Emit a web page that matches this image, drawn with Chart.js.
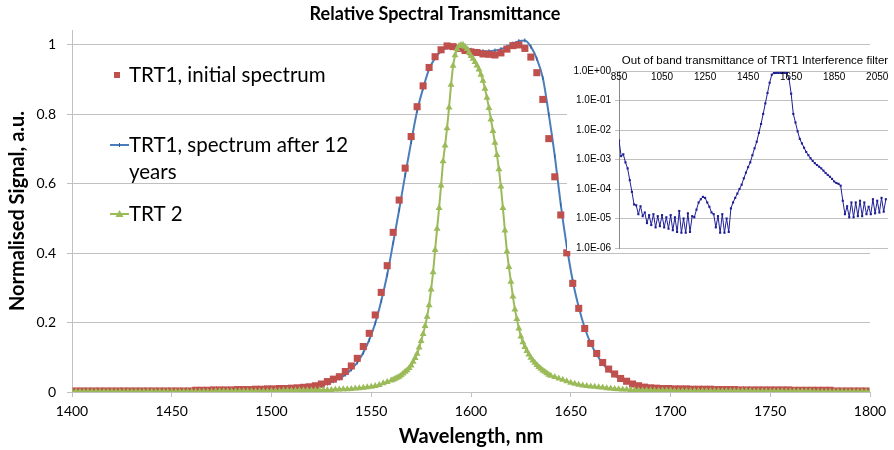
<!DOCTYPE html>
<html><head><meta charset="utf-8">
<script src="https://cdn.jsdelivr.net/npm/chart.js@4"></script>
<style>
html,body{margin:0;padding:0;background:#fff;}
#wrap{position:relative;width:894px;height:450px;overflow:hidden;}
#main{position:absolute;left:0;top:0;}
#insetBox{position:absolute;left:567px;top:48px;width:327px;height:203px;background:#fff;}
#inset{position:absolute;left:0;top:0;}
</style></head><body>
<div id="wrap">
<canvas id="main" width="894" height="450"></canvas>
<div id="insetBox"><canvas id="inset" width="327" height="210"></canvas></div>
</div>
<script>
// ---------- DATA ----------
const mainTitle = 'Relative Spectral Transmittance';
const xTitle = 'Wavelength, nm';
const yTitle = 'Normalised Signal, a.u.';
const seriesNames = ['TRT1, initial spectrum', ['TRT1, spectrum after 12', 'years'], 'TRT 2'];
const xTicks = [1400,1450,1500,1550,1600,1650,1700,1750,1800];
const yTicks = [0,0.2,0.4,0.6,0.8,1];

// TRT1 initial and TRT1 after 12 years: sampled every 3 nm starting at 1402 nm
const trt1Start = 1402, trt1Step = 3;
const trt1Initial = [
  .003,.003,.003,.003,.003,.003,.003,.003,.003,.003,   // 1402
  .003,.003,.003,.003,.003,.003,.003,.003,.003,.003,   // 1432
  .005,.005,.005,.006,.006,.006,.006,.007,.007,.007,   // 1462
  .008,.008,.009,.009,.010,.010,.011,.012,.0135,.015,  // 1492
  .018,.023,.030,.037,.044,.059,.075,.097,.131,.169,   // 1522
  .222,.287,.364,.46,.553,.645,.736,.822,.882,.935,    // 1552
  .966,.986,.997,.995,.99,.984,.980,.978,.974,.973,    // 1582
  .971,.977,.988,.998,1.0,.99,.965,.92,.843,.73,       // 1612
  .62,.51,.401,.313,.241,.183,.140,.111,.085,.066,     // 1642
  .052,.039,.031,.023,.018,.014,.012,.011,.010,.010,   // 1672
  .009,.009,.009,.008,.008,.008,.008,.007,.007,.007,   // 1702
  .007,.006,.006,.006,.006,.006,.006,.006,.006,.006,   // 1732
  .005,.005,.005,.005,.005,.005,.005,.003,.003,.003,   // 1762
  .003,.003,.003                                       // 1792
];
const trt1After12 = [
  .001,.001,.001,.001,.001,.001,.001,.001,.001,.001,   // 1402
  .001,.001,.001,.001,.001,.001,.001,.001,.001,.001,   // 1432
  .001,.001,.001,.0015,.0015,.0015,.002,.002,.002,.002, // 1462
  .003,.003,.003,.004,.005,.006,.007,.008,.009,.011,   // 1492
  .014,.018,.024,.031,.039,.050,.065,.085,.113,.150,   // 1522
  .198,.262,.338,.43,.525,.625,.72,.81,.875,.93,       // 1552
  .962,.982,.992,.995,.993,.99,.986,.983,.982,.982,    // 1582
  .984,.988,.995,1.004,1.011,1.013,.995,.96,.905,.80,  // 1612
  .68,.54,.42,.32,.245,.185,.14,.108,.082,.063,        // 1642
  .048,.037,.028,.021,.016,.012,.009,.007,.006,.005,   // 1672
  .004,.004,.003,.003,.003,.002,.002,.002,.002,.002,   // 1702
  .002,.0015,.0015,.0015,.0015,.001,.001,.001,.001,.001, // 1732
  .001,.001,.001,.001,.001,.001,.001,.001,.001,.001,   // 1762
  .001,.001,.001                                       // 1792
];

// TRT 2: left tail 1400-1558 (2 nm), core 1560-1640 (1 nm), right tail 1642-1800 (2 nm)
const trt2LeftStart = 1400, trt2LeftStep = 2;
const trt2Left = [
  .001,.001,.001,.001,.001,.001,.001,.001,.001,.001,   // 1400
  .001,.001,.001,.001,.001,.001,.001,.001,.001,.001,   // 1420
  .001,.001,.001,.001,.001,.001,.001,.001,.001,.001,   // 1440
  .001,.001,.001,.001,.001,.001,.002,.002,.002,.002,   // 1460
  .002,.002,.002,.002,.002,.002,.002,.002,.002,.002,   // 1480
  .003,.003,.003,.004,.004,.004,.004,.005,.005,.005,   // 1500
  .005,.005,.006,.006,.006,.006,.007,.007,.008,.008,   // 1520
  .009,.010,.011,.012,.0135,.015,.017,.020,.025,.029   // 1540
];
const trt2CoreStart = 1560, trt2CoreStep = 1;
const trt2Core = [
  .033,.035,.038,.041,.044,.048,.053,.058,.063,.069,   // 1560
  .076,.087,.098,.110,.128,.147,.167,.19,.217,.25,     // 1570
  .295,.345,.409,.47,.53,.595,.665,.71,.76,.82,        // 1580
  .885,.94,.97,.988,.997,1.0,1.0,.995,.988,.978,       // 1590
  .968,.96,.951,.941,.929,.914,.897,.874,.848,.818,    // 1600
  .785,.752,.718,.683,.642,.592,.530,.465,.405,.36,    // 1610
  .318,.275,.238,.21,.183,.16,.143,.130,.118,.108,     // 1620
  .099,.091,.084,.078,.072,.067,.062,.058,.054,.050,   // 1630
  .047                                                 // 1640
];
const trt2RightStart = 1642, trt2RightStep = 2;
const trt2Right = [
  .043,.039,.035,.031,.027,.024,.021,.019,.017,.016,   // 1642
  .015,.014,.013,.011,.010,.009,.008,.007,.007,.006,   // 1662
  .006,.005,.005,.005,.005,.004,.004,.004,.004,.004,   // 1682
  .003,.003,.003,.003,.003,.003,.003,.003,.003,.003,   // 1702
  .003,.003,.003,.003,.003,.003,.003,.003,.003,.003,   // 1722
  .002,.002,.002,.002,.002,.002,.002,.002,.002,.002,   // 1742
  .002,.002,.002,.002,.002,.001,.001,.001,.001,.001,   // 1762
  .001,.001,.001,.001,.001,.001,.001,.001,.001,.001    // 1782
];

// Inset: out of band transmittance (log scale), every 10 nm from 850 nm
const insetTitle = 'Out of band transmittance of TRT1 Interference filter';
const insetXTicks = [850,1050,1250,1450,1650,1850,2050];
const insetYTicks = [1e-6,1e-5,1e-4,1e-3,1e-2,1e-1,1];
const insetStart = 850, insetStep = 10;
const insetValues = [
  4.4e-3,1.3e-3,1.5e-3,8e-4,5e-4,2e-4,8e-5,3e-5,2.8e-5,1.4e-5,        // 850
  2.6e-5,1.2e-5,1.6e-5,7e-6,1.3e-5,6e-6,1.4e-5,5e-6,1.2e-5,5.5e-6,    // 950
  1.3e-5,5e-6,1.1e-5,4.5e-6,1.3e-5,4e-6,1.1e-5,3.5e-6,1.8e-5,3.3e-6,  // 1050
  1e-5,3.3e-6,1.5e-5,3.5e-6,1.2e-5,1.1e-5,2e-5,3.5e-5,4.5e-5,5.4e-5,  // 1150
  5e-5,3.5e-5,2.5e-5,1.6e-5,1.4e-5,5e-6,1.2e-5,3.3e-6,1.4e-5,3.3e-6,  // 1250
  1e-5,3.5e-6,2.2e-5,3.5e-5,5e-5,7e-5,1e-4,1.4e-4,2.3e-4,3.6e-4,      // 1350
  5.5e-4,8e-4,1.4e-3,2.4e-3,4e-3,8e-3,1.6e-2,3.5e-2,8e-2,1.8e-1,      // 1450
  4e-1,7.5e-1,8.5e-1,8.6e-1,8.6e-1,8.6e-1,8.6e-1,8.6e-1,8.5e-1,5.5e-1, // 1550
  1.7e-1,3.5e-2,1.8e-2,9e-3,5e-3,3.5e-3,2.5e-3,1.8e-3,1.4e-3,1.1e-3,  // 1650
  9e-4,7.5e-4,6.5e-4,5.7e-4,5e-4,4.2e-4,3.5e-4,3e-4,2.6e-4,2.2e-4,    // 1750
  1.8e-4,1.6e-4,1.5e-4,1.3e-4,4e-5,1.4e-5,2.6e-5,1.1e-5,3.5e-5,1.1e-5, // 1850
  3.5e-5,1.2e-5,4e-5,1.2e-5,3.5e-5,1.4e-5,2.5e-5,1.4e-5,4.5e-5,1.5e-5, // 1950
  4e-5,1.6e-5,5e-5,1.7e-5,4.5e-5                                       // 2050
];

// ---------- STYLE ----------
const FONT = 'Lato, "Open Sans", sans-serif';
const ARIAL = '"Liberation Sans", Arial, sans-serif';
const RED = '#C0504D', BLUE = '#4A7EBB', GREEN = '#9BBB59', NAVY = '#1E1E96';
const GRID = '#C0C0C0';

function grid(start, step, vals){ return vals.map((v,i)=>({x:start+i*step, y:v})); }

const trt2Points = grid(trt2LeftStart,trt2LeftStep,trt2Left)
  .concat(grid(trt2CoreStart,trt2CoreStep,trt2Core))
  .concat(grid(trt2RightStart,trt2RightStep,trt2Right));

const legendPlugin = {
  id:'customLegend',
  afterDraw(chart){
    const ctx = chart.ctx;
    ctx.save();
    ctx.font = '20.5px ' + FONT;
    ctx.textBaseline = 'middle';
    ctx.textAlign = 'left';
    // red square
    ctx.fillStyle = RED; ctx.fillRect(114, 72, 6, 6);
    ctx.fillStyle = '#000'; ctx.fillText(seriesNames[0], 129, 75);
    // blue line
    ctx.strokeStyle = BLUE; ctx.lineWidth = 2;
    ctx.beginPath(); ctx.moveTo(110,145); ctx.lineTo(129,145); ctx.stroke();
    ctx.lineWidth = 1; ctx.strokeStyle = '#2E5C9A';
    ctx.beginPath(); ctx.moveTo(119.5,143); ctx.lineTo(119.5,147); ctx.stroke();
    ctx.fillStyle = '#000';
    ctx.fillText(seriesNames[1][0], 129, 145);
    ctx.fillText(seriesNames[1][1], 129, 172);
    // green
    ctx.strokeStyle = GREEN; ctx.lineWidth = 2;
    ctx.beginPath(); ctx.moveTo(110,214); ctx.lineTo(129,214); ctx.stroke();
    ctx.fillStyle = GREEN;
    ctx.beginPath(); ctx.moveTo(119.5,210); ctx.lineTo(123.5,217); ctx.lineTo(115.5,217); ctx.closePath(); ctx.fill();
    ctx.fillStyle = '#000';
    ctx.fillText(seriesNames[2], 129, 214);
    ctx.restore();
  }
};

new Chart(document.getElementById('main'), {
  type:'line',
  data:{ datasets:[
    { label: seriesNames[2], data: trt2Points, borderColor: GREEN, backgroundColor: GREEN,
      borderWidth: 2, pointStyle:'triangle', pointRadius: 4, pointBorderWidth: 0,
      pointBackgroundColor: GREEN, tension: 0 },
    { label: seriesNames[0], data: grid(trt1Start,trt1Step,trt1Initial), showLine:false,
      pointStyle:'rect', pointRadius: 5, pointBorderWidth: 0, pointBackgroundColor: RED,
      borderColor: RED, backgroundColor: RED },
    { label: seriesNames[1].join(' '), data: grid(trt1Start,trt1Step,trt1After12),
      borderColor: BLUE, borderWidth: 2, cubicInterpolationMode:'monotone',
      pointStyle:'line', rotation: 90, pointRadius: 2, pointBorderWidth: 1,
      pointBorderColor:'#2E5C9A', pointBackgroundColor:'#2E5C9A' }
  ]},
  options:{
    responsive:false, devicePixelRatio:1, animation:false,
    layout:{ padding:{ top:0, right:24, left:0, bottom:0 } },
    plugins:{
      legend:{ display:false }, tooltip:{ enabled:false },
      title:{ display:true, text: mainTitle, color:'#000',
        font:{ family: FONT, size: 18, weight:'bold' }, padding:{ top:3, bottom:5.4 } }
    },
    scales:{
      x:{ type:'linear', min:1400, max:1800,
        afterBuildTicks: a => { a.ticks = xTicks.map(v=>({value:v})); },
        afterFit: s => { s.height = 58; },
        ticks:{ color:'#000', font:{ family: FONT, size: 14 }, padding: 6, maxRotation:0,
          callback: v => String(v) },
        grid:{ drawOnChartArea:false, tickLength:5, color: GRID },
        border:{ color: GRID },
        title:{ display:true, text: xTitle, color:'#000',
          font:{ family: FONT, size: 20, weight:'bold' }, padding:{ top:0, bottom:1 } }
      },
      y:{ min:0, max:1.043,
        afterBuildTicks: a => { a.ticks = yTicks.map(v=>({value:v})); },
        afterFit: s => { s.width = 72; },
        ticks:{ color:'#000', font:{ family: FONT, size: 14 }, padding: 11,
          callback: v => String(v) },
        grid:{ color: GRID, tickLength:5 },
        border:{ color: GRID },
        title:{ display:true, text: yTitle, color:'#000',
          font:{ family: FONT, size: 20, weight:'bold' }, padding:{ top:6, bottom:0 } }
      }
    }
  },
  plugins:[legendPlugin]
});

// ---------- INSET ----------
function fmtE(v){
  const e = Math.round(Math.log10(v));
  return '1.0E' + (e < 0 ? '-' : '+') + String(Math.abs(e)).padStart(2,'0');
}
const insetLabels = {
  id:'insetLabels',
  afterDraw(chart){
    const ctx = chart.ctx, xs = chart.scales.x, area = chart.chartArea;
    ctx.save();
    ctx.fillStyle = '#000';
    ctx.font = '10px ' + ARIAL;
    ctx.textAlign = 'center'; ctx.textBaseline = 'top';
    insetXTicks.forEach(v => ctx.fillText(String(v), xs.getPixelForValue(v), area.top + 1));
    ctx.font = '11.5px ' + ARIAL;
    ctx.textBaseline = 'middle';
    ctx.fillText(insetTitle, 188, 13);
    ctx.restore();
  }
};
new Chart(document.getElementById('inset'), {
  type:'line',
  data:{ datasets:[{ label: insetTitle, data: grid(insetStart,insetStep,insetValues),
    borderColor: NAVY, borderWidth: 1, pointRadius: 1.5, pointStyle:'rect',
    pointBackgroundColor: NAVY, pointBorderWidth:0, tension:0 }]},
  options:{
    responsive:false, devicePixelRatio:1, animation:false,
    layout:{ padding:{ top:23, right:6, left:0, bottom:4 } },
    plugins:{ legend:{display:false}, tooltip:{enabled:false} },
    scales:{
      x:{ type:'linear', min:850, max:2100, display:false },
      y:{ type:'logarithmic', min:1e-6, max:1,
        afterBuildTicks: a => { a.ticks = insetYTicks.map(v=>({value:v})); },
        afterFit: s => { s.width = 52; },
        ticks:{ color:'#000', font:{ family: ARIAL, size: 10 }, padding: 4, callback: v => fmtE(v) },
        grid:{ color: GRID, tickLength: 4 },
        border:{ color: '#888' }
      }
    }
  },
  plugins:[insetLabels]
});
</script>
</body></html>
